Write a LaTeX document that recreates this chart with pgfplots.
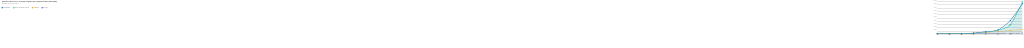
\documentclass[border=0pt]{standalone}
\usepackage{pgfplots}
\pgfplotsset{compat=1.18}
\usepackage{fontspec}
\setmainfont{Liberation Sans}
\definecolor{cA}{RGB}{18,120,206}
\definecolor{cS}{RGB}{16,170,120}
\definecolor{cU}{RGB}{238,160,50}
\definecolor{cP}{RGB}{80,60,160}
\begin{document}
\begin{tikzpicture}[x=1pt,y=1pt]
\path (0,0) rectangle (1024,514);
\node[anchor=base west,font=\fontsize{16}{18}\selectfont\bfseries,text=black!85] at (18,488) {Vehículos eléctricos en el parque uruguayo por segmento liviano (2018–2025)};
\node[anchor=base west,font=\fontsize{13.5}{16}\selectfont,text=black!55] at (18,463) {Unidades acumuladas activas.};
\foreach \c/\t/\xx in {cA/{Automóviles}/18,cS/{SUV / Crossover / Rural}/143,cU/{Utilitarios}/343,cP/{Pick Up}/446}{
  \fill[\c,rounded corners=1.5pt] (\xx,425) rectangle ++(12,12);
  \path (\xx,0) ++(16,426) node[anchor=base west,font=\fontsize{14}{16}\selectfont,text=black!70] {\t};
}
\begin{axis}[at={(77,43)},anchor=south west,scale only axis,width=915,height=350,
 xmin=2018,xmax=2025,ymin=0,ymax=10000,
 axis line style={draw=none},tick style={draw=none},
 ymajorgrids,grid style={black!10},
 xtick={2018,...,2025},ytick={0,1000,...,10000},
 x tick label style={/pgf/number format/1000 sep={},font=\fontsize{12.5}{14}\selectfont,text=black!50},
 y tick label style={/pgf/number format/1000 sep={.},font=\fontsize{12.5}{14}\selectfont,text=black!50},
 /pgf/number format/assume math mode=true,
 scaled y ticks=false,
 xticklabel style={yshift=-2pt},yticklabel style={xshift=-2pt},
 clip=false]
\addplot[draw=none,fill=cA,fill opacity=0.08,smooth] coordinates {(2018,10)(2019,20)(2020,40)(2021,230)(2022,730)(2023,1230)(2024,4100)(2025,9230)} \closedcycle;
\addplot[draw=none,fill=cS,fill opacity=0.10,smooth] coordinates {(2018,5)(2019,10)(2020,30)(2021,250)(2022,520)(2023,1150)(2024,2770)(2025,9830)} \closedcycle;
\addplot[draw=none,fill=cU,fill opacity=0.08,smooth] coordinates {(2018,100)(2019,120)(2020,150)(2021,280)(2022,430)(2023,740)(2024,1060)(2025,1430)} \closedcycle;
\addplot[cP,line width=2pt,smooth,mark=o,mark size=3.5,mark options={fill=white,line width=1.5pt}] coordinates {(2018,0)(2019,0)(2020,0)(2021,5)(2022,10)(2023,20)(2024,90)(2025,250)};
\addplot[cU,line width=2pt,smooth,mark=o,mark size=3.5,mark options={fill=white,line width=1.5pt}] coordinates {(2018,100)(2019,120)(2020,150)(2021,280)(2022,430)(2023,740)(2024,1060)(2025,1430)};
\addplot[cS,line width=2.5pt,smooth,mark=o,mark size=5,mark options={fill=white,line width=2.5pt}] coordinates {(2018,5)(2019,10)(2020,30)(2021,250)(2022,520)(2023,1150)(2024,2770)(2025,9830)};
\addplot[cA,line width=2.5pt,smooth,mark=o,mark size=5,mark options={fill=white,line width=2.5pt}] coordinates {(2018,10)(2019,20)(2020,40)(2021,230)(2022,730)(2023,1230)(2024,4100)(2025,9230)};
\end{axis}
\end{tikzpicture}
\end{document}
